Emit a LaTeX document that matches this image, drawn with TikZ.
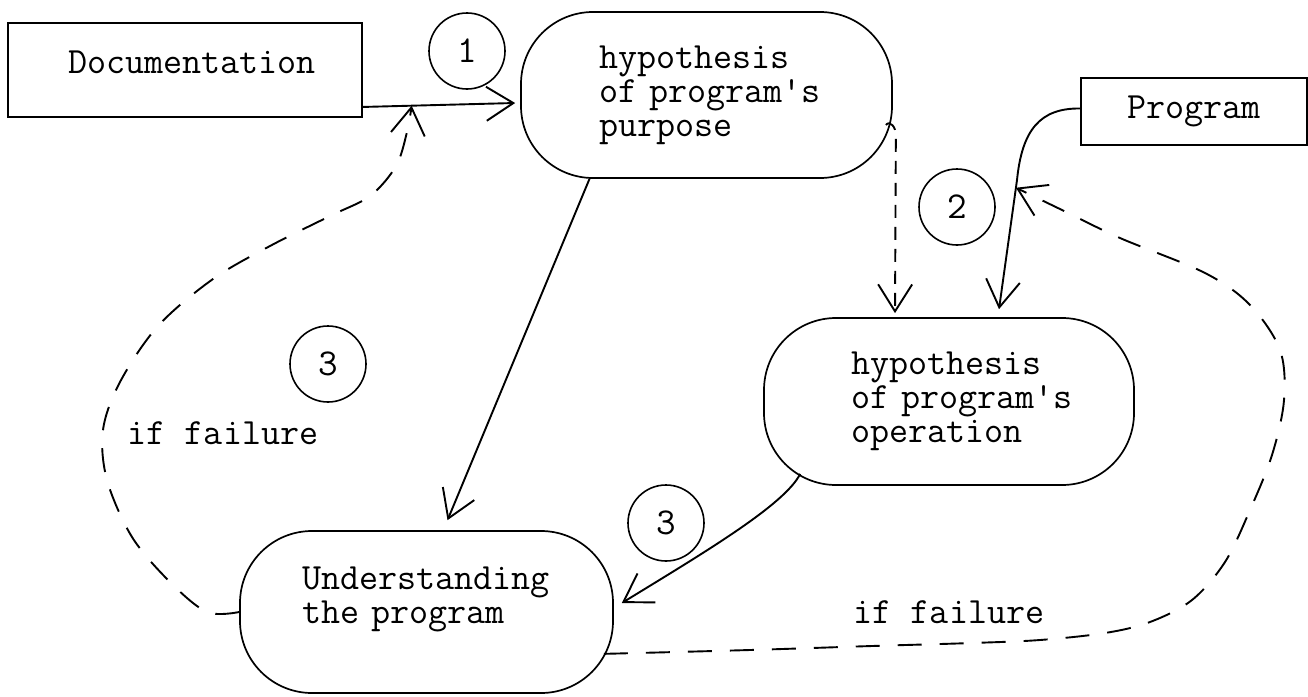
\documentclass[tikz,border=0pt]{standalone}
\usepackage{fontspec}
\usetikzlibrary{arrows.meta}
\begin{document}
\begin{tikzpicture}[x=1pt,y=-1pt,
  every node/.style={font=\ttfamily\fontsize{37pt}{34pt}\selectfont},
  box/.style={draw, line width=1.9pt, inner sep=0pt},
  blob/.style={draw, line width=1.7pt, rounded corners=72pt, align=left, inner sep=0pt},
  num/.style={draw, circle, line width=1.6pt, minimum size=76pt, inner sep=0pt,
    font=\ttfamily\fontsize{38pt}{38pt}\selectfont},
  arr/.style={line width=1.9pt, -{Straight Barb[length=27pt,width=34pt]}},
  darr/.style={arr, dash pattern=on 24pt off 18pt},
  sdarr/.style={arr, dash pattern=on 13pt off 9pt},
  lbl/.style={inner sep=0pt}]
\useasboundingbox (0,0) rectangle (1308,696);

% boxes
\node[box, minimum width=354pt, minimum height=94pt, text width=234pt, align=left] (doc) at (185,70)
  {Documentation\rule[-16pt]{0pt}{0pt}};
\node[box, minimum width=226pt, minimum height=67pt] (prog) at (1194,111.5) {Program};

% blobs
\node[blob, minimum width=371pt, minimum height=166pt, text width=215pt] (purpose) at (706.5,95)
  {hypothesis\\of~program\textquotesingle s\\purpose};
\node[blob, minimum width=370pt, minimum height=167pt, text width=196pt] (op) at (949,401.5)
  {hypothesis\\of~program\textquotesingle s\\operation};
\node[blob, minimum width=373pt, minimum height=162pt, text width=249pt] (under) at (426.5,612)
  {Understanding\\the~program\rule[-33pt]{0pt}{0pt}};

% numbered circles
\node[num] (n1) at (467,51) {1};
\node[num] (n2) at (957,207) {2};
\node[num] (n3a) at (328,364) {3};
\node[num] (n3b) at (666,523) {3};

% labels
\node[lbl] (f1) at (223,433) {if failure};
\node[lbl] (f2) at (949,612) {if failure};

% connectors
\draw[arr] ([yshift=11pt]doc.south east) -- coordinate[pos=0.32] (d1) ([xshift=-5pt,yshift=-8pt]purpose.west);
\draw[arr] ([xshift=-117pt]purpose.south) -- ([xshift=21pt,yshift=10pt]under.north);
\draw[sdarr] ([xshift=-7pt,yshift=-30pt]purpose.east) .. controls +(4,-5) and +(0,-8) .. ++(10,10)
  -- ([xshift=-54pt,yshift=4pt]op.north);
\draw[arr] ([yshift=3pt]prog.west) .. controls (1040,108) and (1022,130) .. (1017,180)
  -- coordinate[pos=0.06] (p1) ([xshift=50pt,yshift=8pt]op.north);
\draw[arr] ([xshift=37pt,yshift=12pt]op.south west) .. controls (785,505) and (700,555) .. ([xshift=8pt,yshift=9pt]under.east);

% failure loops
\draw[darr] plot[smooth, tension=0.55] coordinates {(under.west) (207,612) (170,582) (132,537)
  (107,480) (103,430) (120,382) (158,326) (213,279) (270,246) (330,216) (370,196) (396,166) (407,132) (d1)};
\draw[darr] plot[smooth, tension=0.55] coordinates {([xshift=-10pt,yshift=40pt]under.south east)
  (750,650) (872,646) (972,643) (1040,640) (1105,633) (1150,622) (1192,600) (1225,562) (1250,510)
  (1272,455) (1284,400) (1280,350) (1250,305) (1205,273) (1120,238) (1062,210) (p1)};
\end{tikzpicture}
\end{document}
